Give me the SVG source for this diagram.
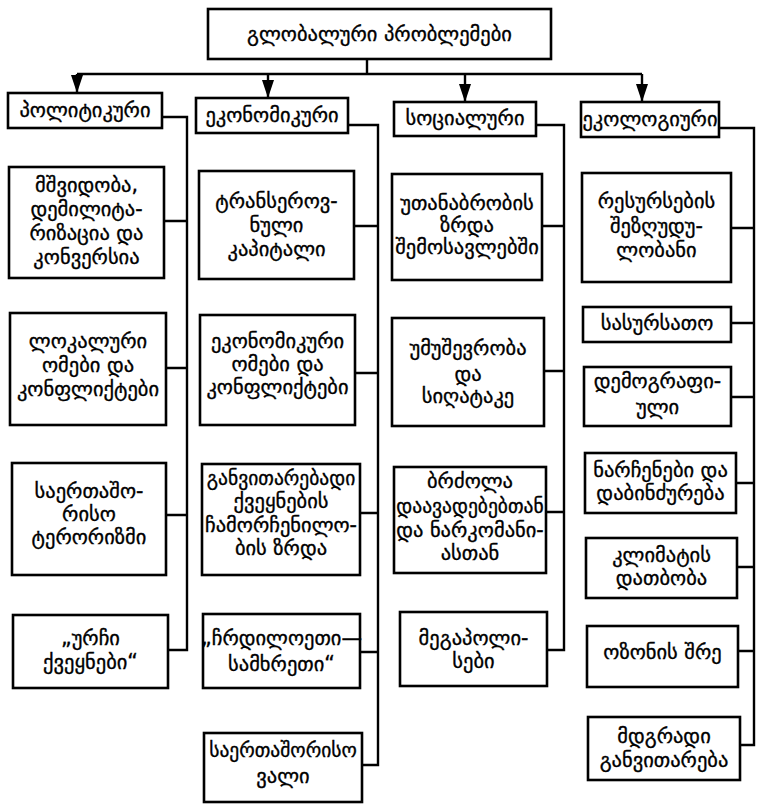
<svg xmlns="http://www.w3.org/2000/svg" width="759" height="804" viewBox="0 0 759 804">
<style>
.b{fill:#fff;stroke:#000;stroke-width:2.6}
.c{fill:none;stroke:#000;stroke-width:2.4}
text{font-family:"DejaVu Sans","Noto Sans",sans-serif;font-size:20.5px;text-anchor:middle;fill:#000;stroke:#000;stroke-width:0.35}
.n{font-size:19.5px}
</style>
<defs>
<marker id="ah" viewBox="0 0 18 12" refX="18" refY="6" markerWidth="18" markerHeight="12" markerUnits="userSpaceOnUse" orient="auto">
<path d="M0,0 L18,6 L0,12 z" fill="#000"/>
</marker>
</defs>
<rect width="759" height="804" fill="#fff"/>
<g id="connectors">
<path class="c" d="M367,58 V74 M77,74 H642"/>
<path class="c" d="M77,74 V93" marker-end="url(#ah)"/>
<path class="c" d="M268,74 V98" marker-end="url(#ah)"/>
<path class="c" d="M465,74 V102" marker-end="url(#ah)"/>
<path class="c" d="M642,74 V102" marker-end="url(#ah)"/>
<path class="c" d="M162,117 H187 V650 H168 M164,221 H187 M166,368 H187 M166,515 H187"/>
<path class="c" d="M348,125 H378 V765 H362 M354,226 H378 M355,373 H378 M360,513 H378 M360,652 H378"/>
<path class="c" d="M536,125 H564 V650 H547 M542,226 H564 M544,371 H564 M546,512 H564"/>
<path class="c" d="M719,128 H754 V745 H740 M731,228 H754 M731,323 H754 M731,397 H754 M736,483 H754 M737,567 H754 M738,651 H754"/>
</g>
<g id="root"><rect class="b" x="208" y="9" width="343" height="50"/><text x="379.5" y="41">გლობალური  პრობლემები</text></g>
<g id="cat-political"><rect class="b" x="8" y="93" width="154" height="35"/><text x="85" y="117">პოლიტიკური</text></g>
<g id="cat-economic"><rect class="b" x="196" y="98" width="152" height="35"/><text x="272" y="122">ეკონომიკური</text></g>
<g id="cat-social"><rect class="b" x="394" y="102" width="142" height="34"/><text x="465" y="125">სოციალური</text></g>
<g id="cat-ecological"><rect class="b" x="581" y="102" width="138" height="35"/><text x="650" y="126">ეკოლოგიური</text></g>

<g id="p1"><rect class="b" x="9" y="167" width="155" height="111"/><text x="86.5" y="192">მშვიდობა,</text><text x="86.5" y="216">დემილიტა-</text><text x="86.5" y="240">რიზაცია და</text><text x="86.5" y="264">კონვერსია</text></g>
<g id="p2"><rect class="b" x="10" y="313" width="156" height="112"/><text x="88" y="348">ლოკალური</text><text x="88" y="372">ომები და</text><text x="88" y="396">კონფლიქტები</text></g>
<g id="p3"><rect class="b" x="12" y="463" width="154" height="112"/><text x="89" y="498">საერთაშო-</text><text x="89" y="521">რისო</text><text x="89" y="544">ტერორიზმი</text></g>
<g id="p4"><rect class="b" x="13" y="615" width="155" height="73"/><text x="90.5" y="645">„ურჩი</text><text x="90.5" y="669">ქვეყნები“</text></g>

<g id="e1"><rect class="b" x="199" y="171" width="155" height="108"/><text x="276.5" y="208">ტრანსეროვ-</text><text x="276.5" y="232">ნული</text><text x="276.5" y="256">კაპიტალი</text></g>
<g id="e2"><rect class="b" x="200" y="315" width="155" height="110"/><text x="277.5" y="348">ეკონომიკური</text><text x="277.5" y="371">ომები და</text><text x="277.5" y="394">კონფლიქტები</text></g>
<g id="e3"><rect class="b" x="202" y="464" width="158" height="111"/><text class="n" x="281" y="485">განვითარებადი</text><text x="281" y="508">ქვეყნების</text><text x="281" y="532">ჩამორჩენილო-</text><text x="281" y="555">ბის ზრდა</text></g>
<g id="e4"><rect class="b" x="203" y="614" width="157" height="74"/><text x="281.5" y="645">„ჩრდილოეთი—</text><text x="281.5" y="671">სამხრეთი“</text></g>
<g id="e5"><rect class="b" x="204" y="733" width="158" height="69"/><text class="n" x="283" y="757">საერთაშორისო</text><text x="283" y="783">ვალი</text></g>

<g id="s1"><rect class="b" x="392" y="174" width="150" height="106"/><text x="467" y="210">უთანაბრობის</text><text x="467" y="232">ზრდა</text><text x="467" y="254">შემოსავლებში</text></g>
<g id="s2"><rect class="b" x="392" y="318" width="152" height="108"/><text x="468" y="355">უმუშევრობა</text><text x="468" y="381">და</text><text x="468" y="403">სიღატაკე</text></g>
<g id="s3"><rect class="b" x="394" y="467" width="152" height="106"/><text x="470" y="488">ბრძოლა</text><text class="n" x="470" y="513">დაავადებებთან</text><text x="470" y="537">და ნარკომანი-</text><text x="470" y="560">ასთან</text></g>
<g id="s4"><rect class="b" x="400" y="612" width="147" height="74"/><text x="473.5" y="645">მეგაპოლი-</text><text x="473.5" y="668">სები</text></g>

<g id="g1"><rect class="b" x="582" y="173" width="149" height="109"/><text x="656.5" y="208">რესურსების</text><text x="656.5" y="233">შეზღუდუ-</text><text x="656.5" y="257">ლობანი</text></g>
<g id="g2"><rect class="b" x="583" y="307" width="148" height="35"/><text x="657" y="330">სასურსათო</text></g>
<g id="g3"><rect class="b" x="584" y="367" width="147" height="59"/><text x="657.5" y="388">დემოგრაფი-</text><text x="657.5" y="414">ული</text></g>
<g id="g4"><rect class="b" x="585" y="453" width="151" height="60"/><text x="660.5" y="477">ნარჩენები და</text><text x="660.5" y="500">დაბინძურება</text></g>
<g id="g5"><rect class="b" x="586" y="538" width="151" height="60"/><text x="661.5" y="562">კლიმატის</text><text x="661.5" y="585">დათბობა</text></g>
<g id="g6"><rect class="b" x="587" y="626" width="151" height="61"/><text x="662.5" y="659">ოზონის შრე</text></g>
<g id="g7"><rect class="b" x="588" y="717" width="152" height="63"/><text x="664" y="743">მდგრადი</text><text x="664" y="767">განვითარება</text></g>
</svg>
